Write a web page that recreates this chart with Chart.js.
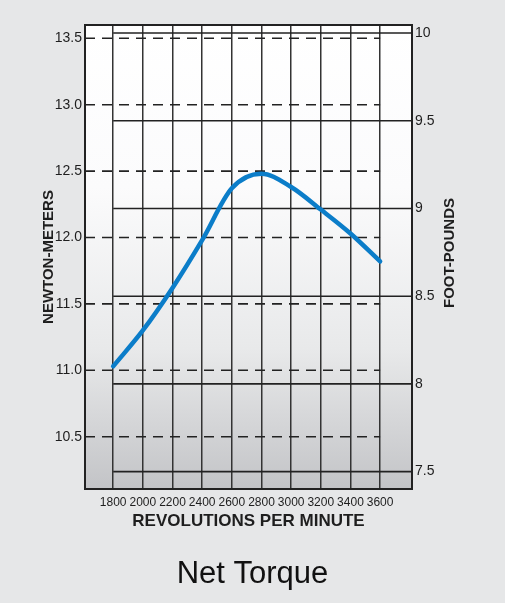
<!DOCTYPE html>
<html>
<head>
<meta charset="utf-8">
<title>Net Torque</title>
<script src="https://cdn.jsdelivr.net/npm/chart.js@4.4.1/dist/chart.umd.min.js"></script>
<style>
  html, body { margin: 0; padding: 0; background: #e6e7e8; }
  #wrap { width: 505px; height: 603px; }
</style>
</head>
<body>
<div id="wrap"><canvas id="torque" width="505" height="603"></canvas></div>
<script>
// values
const rpm = [1800, 2000, 2200, 2400, 2600, 2800, 3000, 3200, 3400, 3600];
const torqueNm = [11.03, 11.30, 11.62, 11.98, 12.37, 12.48, 12.38, 12.21, 12.03, 11.82];
const nmTicks = [10.5, 11.0, 11.5, 12.0, 12.5, 13.0, 13.5];
const ftlbTicks = [7.5, 8, 8.5, 9, 9.5, 10];

Chart.defaults.font.family = "'Liberation Sans', Arial, sans-serif";
Chart.defaults.color = "#1e1e1e";

const ink = "#222";

// background, partial grid lines, frame and right-hand title
const torqueGrid = {
  id: "torqueGrid",
  beforeDraw(chart) {
    const { ctx, chartArea: a } = chart;
    ctx.save();
    ctx.fillStyle = "#e6e7e8";
    ctx.fillRect(0, 0, chart.width, chart.height);
    const g = ctx.createLinearGradient(0, a.top, 0, a.bottom);
    g.addColorStop(0, "#ffffff");
    g.addColorStop(0.35, "#fbfbfc");
    g.addColorStop(0.7, "#e8e9ea");
    g.addColorStop(1, "#c3c4c7");
    ctx.fillStyle = g;
    ctx.fillRect(a.left, a.top, a.width, a.height);
    ctx.restore();
  },
  beforeDatasetsDraw(chart) {
    const { ctx, chartArea: a, scales } = chart;
    const xFirst = scales.x.getPixelForValue(rpm[0]);
    const xLast = scales.x.getPixelForValue(rpm[rpm.length - 1]);
    ctx.save();
    ctx.strokeStyle = ink;
    ctx.lineWidth = 1.6;

    // newton-meter lines: dashed, from the left edge to the last rpm line
    ctx.setLineDash([10, 7]);
    nmTicks.forEach((v) => {
      const y = scales.yNm.getPixelForValue(v);
      ctx.beginPath();
      ctx.moveTo(a.left, y);
      ctx.lineTo(xLast, y);
      ctx.stroke();
    });

    // foot-pound lines: solid, from the first rpm line to the right edge
    ctx.setLineDash([]);
    ftlbTicks.forEach((v) => {
      const y = scales.yFt.getPixelForValue(v);
      ctx.beginPath();
      ctx.moveTo(xFirst, y);
      ctx.lineTo(a.right, y);
      ctx.stroke();
    });

    // top edge of the frame
    ctx.lineWidth = 2;
    ctx.beginPath();
    ctx.moveTo(a.left - 1, a.top);
    ctx.lineTo(a.right + 1, a.top);
    ctx.stroke();
    ctx.restore();
  },
  afterDraw(chart) {
    const { ctx } = chart;
    ctx.save();
    ctx.translate(450, 253);
    ctx.rotate(-Math.PI / 2);
    ctx.font = "bold 15px 'Liberation Sans', Arial, sans-serif";
    ctx.fillStyle = "#1e1e1e";
    ctx.textAlign = "center";
    ctx.textBaseline = "middle";
    ctx.fillText("FOOT-POUNDS", 0, 0);
    ctx.restore();
  },
};

new Chart(document.getElementById("torque"), {
  type: "line",
  data: {
    datasets: [
      {
        label: "Net Torque",
        data: rpm.map((r, i) => ({ x: r, y: torqueNm[i] })),
        borderColor: "#0b7dc9",
        borderWidth: 4.5,
        borderCapStyle: "round",
        pointRadius: 0,
        cubicInterpolationMode: "monotone",
        xAxisID: "x",
        yAxisID: "yNm",
      },
    ],
  },
  options: {
    responsive: false,
    animation: false,
    layout: { padding: { top: 25, left: 0, right: 0, bottom: 0 } },
    plugins: {
      legend: { display: false },
      tooltip: { enabled: false },
      title: {
        display: true,
        position: "bottom",
        text: "Net Torque",
        color: "#111",
        font: { size: 31, weight: "normal" },
        padding: { top: 0, bottom: 10 },
      },
    },
    scales: {
      x: {
        type: "linear",
        min: 1610,
        max: 3815,
        afterBuildTicks: (s) => { s.ticks = rpm.map((v) => ({ value: v })); },
        afterFit: (s) => { s.height = 66.8; },
        grid: { color: "#333", lineWidth: 1.5, drawTicks: false },
        border: { color: ink, width: 2 },
        ticks: { font: { size: 12 }, padding: 6, maxRotation: 0, autoSkip: false, callback: (v) => String(v) },
        title: {
          display: true,
          text: "REVOLUTIONS PER MINUTE",
          font: { size: 17, weight: "bold" },
          padding: { top: 0, bottom: 24.6 },
        },
      },
      yNm: {
        type: "linear",
        position: "left",
        min: 10.106,
        max: 13.6,
        afterBuildTicks: (s) => { s.ticks = nmTicks.map((v) => ({ value: v })); },
        afterFit: (s) => { s.width = 85; },
        grid: { display: false, drawTicks: false },
        border: { color: ink, width: 2 },
        ticks: { font: { size: 14 }, padding: 3, callback: (v) => v.toFixed(1) },
        title: {
          display: true,
          text: "NEWTON-METERS",
          font: { size: 15, weight: "bold" },
          padding: { top: 40, bottom: 0 },
        },
      },
      yFt: {
        type: "linear",
        position: "right",
        min: 7.401,
        max: 10.046,
        afterBuildTicks: (s) => { s.ticks = ftlbTicks.map((v) => ({ value: v })); },
        afterFit: (s) => { s.width = 93; },
        grid: { display: false, drawTicks: false },
        border: { color: ink, width: 2 },
        ticks: { font: { size: 14 }, padding: 3, callback: (v) => String(v) },
      },
    },
  },
  plugins: [torqueGrid],
});
</script>
</body>
</html>
